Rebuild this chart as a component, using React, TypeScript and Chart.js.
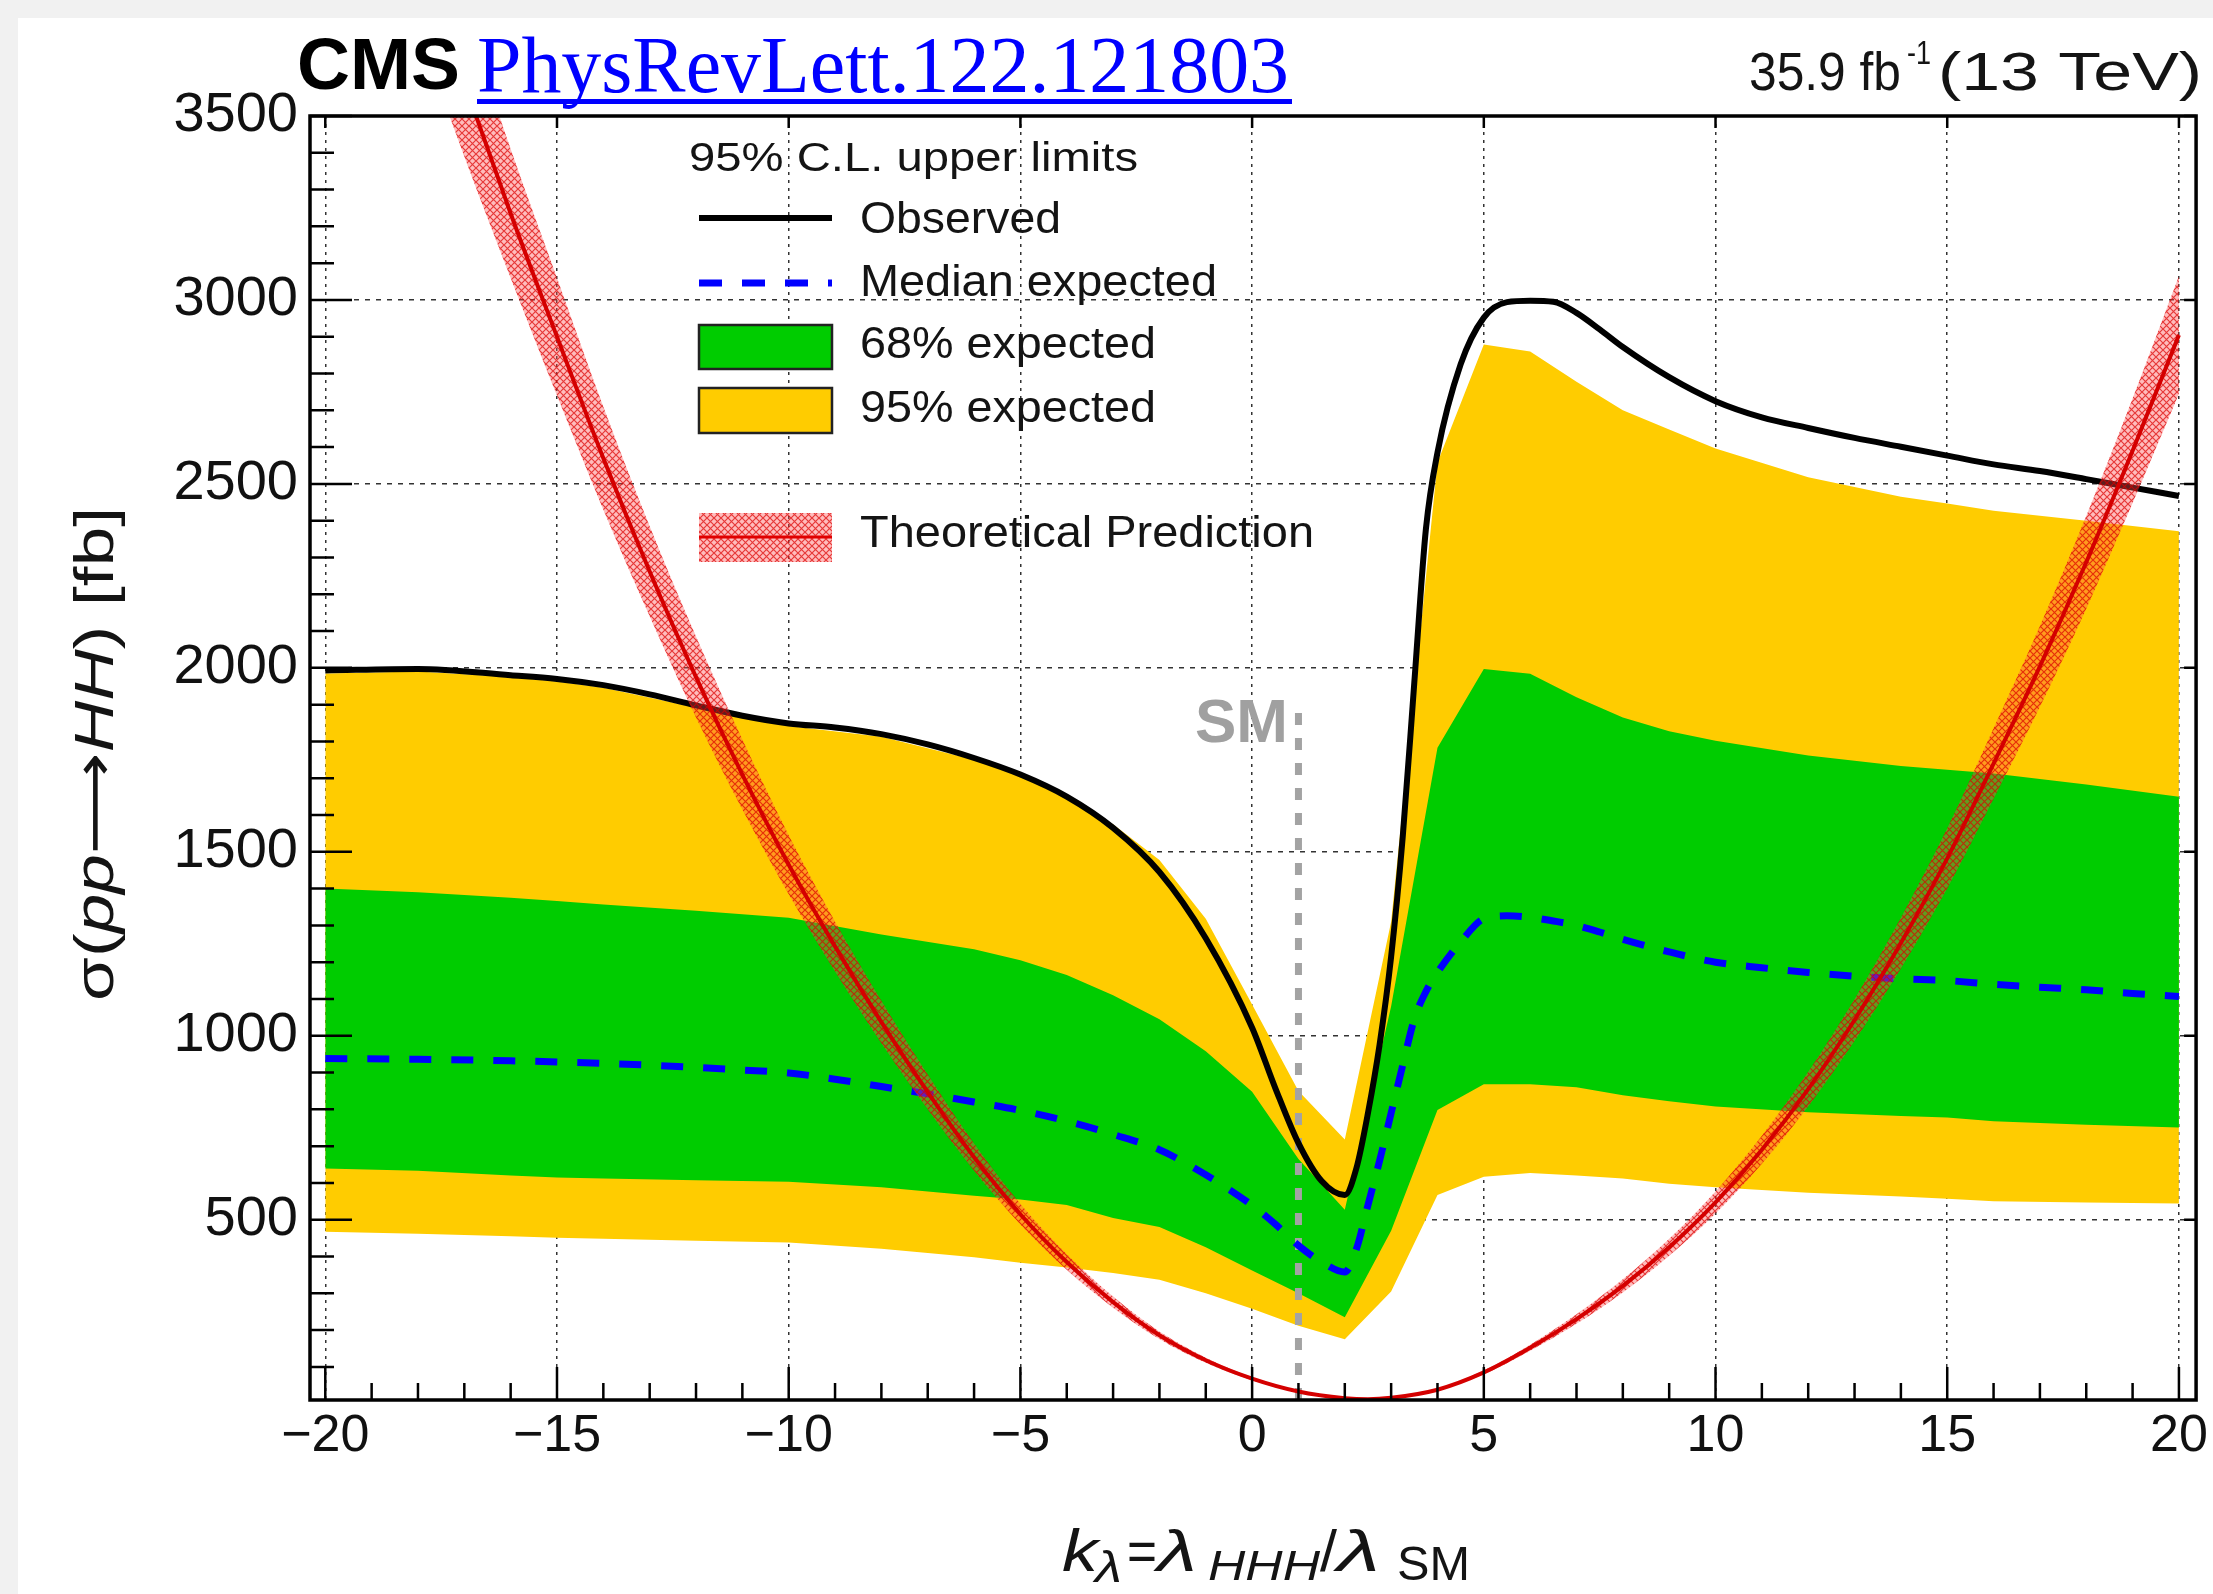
import React, { useEffect, useRef } from 'react';
import { Chart, registerables } from 'chart.js';

Chart.register(...registerables);

// ---------------- data ----------------
const K_LINE = [-20, -18, -16, -15, -14, -13, -12, -11, -10, -9, -8, -7, -6, -5, -4, -3, -2, -1, 0, 0.5, 1, 1.5, 2, 2.25, 2.5, 2.75, 3, 3.25, 3.5, 3.75, 4, 4.5, 5, 5.5, 6, 6.5, 7, 7.5, 8, 9, 10, 11, 12, 13, 14, 15, 16, 17, 18, 19, 20];
const OBSERVED = [1993, 1997, 1980, 1970, 1953, 1928, 1898, 1870, 1849, 1838, 1820, 1792, 1755, 1710, 1650, 1565, 1445, 1265, 1022, 858, 708, 605, 567, 640, 790, 975, 1215, 1540, 1960, 2377, 2585, 2825, 2952, 2994, 2998, 2995, 2965, 2920, 2872, 2790, 2725, 2681, 2652, 2625, 2601, 2577, 2553, 2535, 2513, 2490, 2467];
const MEDIAN = [938, 936, 932, 929, 925, 920, 914, 907, 899, 882, 862, 842, 820, 797, 768, 732, 690, 622, 539, 488, 430, 385, 358, 420, 540, 660, 790, 920, 1045, 1120, 1172, 1255, 1318, 1326, 1322, 1312, 1300, 1282, 1262, 1228, 1200, 1185, 1172, 1162, 1155, 1150, 1140, 1132, 1125, 1115, 1107];

const K_BAND = [-20, -18, -16, -15, -14, -12, -10, -8, -6, -5, -4, -3, -2, -1, 0, 1, 2, 3, 4, 5, 6, 7, 8, 9, 10, 12, 14, 15, 16, 18, 20];
const BAND95_HIGH = [1985, 1990, 1975, 1963, 1946, 1892, 1842, 1813, 1750, 1706, 1650, 1575, 1478, 1318, 1085, 850, 718, 1310, 2558, 2879, 2860, 2778, 2700, 2648, 2596, 2518, 2465, 2447, 2427, 2400, 2371];
const BAND95_LOW = [467, 462, 455, 451, 448, 443, 438, 421, 398, 383, 370, 355, 337, 300, 258, 212, 175, 305, 567, 617, 627, 620, 612, 598, 588, 573, 563, 557, 550, 547, 544];
const BAND68_HIGH = [1400, 1390, 1375, 1366, 1357, 1340, 1321, 1275, 1235, 1205, 1165, 1110, 1045, 958, 848, 665, 527, 1080, 1783, 1997, 1984, 1920, 1865, 1828, 1802, 1762, 1733, 1723, 1713, 1683, 1650];
const BAND68_LOW = [639, 633, 620, 615, 612, 607, 603, 588, 565, 555, 540, 505, 480, 425, 362, 300, 235, 470, 798, 868, 868, 860, 838, 822, 808, 792, 782, 778, 768, 758, 751];

const K_THEORY = [-20, -19, -18, -17, -16, -15, -14, -13, -12, -11, -10, -9, -8, -7, -6, -5, -4, -3, -2, -1, 0, 1, 2, 2.5, 3, 4, 5, 6, 7, 8, 9, 10, 11, 12, 13, 14, 15, 16, 17, 18, 19, 20];
const THEORY = [4760, 4350, 3960, 3590, 3235, 2900, 2570, 2262, 1975, 1710, 1465, 1243, 1037, 847, 670, 515, 385, 276, 186, 118, 68, 33, 15, 12, 16, 38, 85, 152, 230, 320, 425, 547, 690, 855, 1043, 1252, 1482, 1740, 2004, 2287, 2590, 2905];
const THEORY_HIGH = [5020, 4590, 4180, 3790, 3410, 3060, 2710, 2385, 2085, 1805, 1545, 1310, 1095, 895, 707, 543, 406, 291, 196, 125, 72, 35, 16, 13, 17, 40, 90, 160, 243, 338, 448, 577, 728, 902, 1100, 1321, 1564, 1836, 2114, 2413, 2732, 3065];
const THEORY_LOW = [4500, 4110, 3740, 3390, 3060, 2740, 2430, 2140, 1865, 1615, 1385, 1175, 980, 800, 633, 487, 364, 261, 176, 111, 64, 31, 14, 11, 15, 36, 80, 144, 217, 302, 402, 517, 652, 808, 986, 1183, 1400, 1644, 1894, 2161, 2448, 2745];

const SM_K = [1, 1];
const SM_Y = [10, 1893];

const X_TICKS = [-20, -15, -10, -5, 0, 5, 10, 15, 20];
const Y_TICKS = [500, 1000, 1500, 2000, 2500, 3000, 3500];

// ---------------- helpers ----------------
const SANS = "'Liberation Sans', Arial, Helvetica, 'DejaVu Sans', sans-serif";
const SERIF = "'Liberation Serif', 'Times New Roman', serif";

function drawText(
  ctx: CanvasRenderingContext2D,
  s: string,
  x: number,
  y: number,
  font: string,
  color: string,
  width?: number,
  align: 'left' | 'right' = 'left'
) {
  ctx.save();
  ctx.font = font;
  ctx.fillStyle = color;
  ctx.textBaseline = 'alphabetic';
  ctx.textAlign = 'left';
  const w = ctx.measureText(s).width;
  const sx = width ? width / w : 1;
  const x0 = align === 'right' ? x - w * sx : x;
  ctx.translate(x0, y);
  ctx.scale(sx, 1);
  ctx.fillText(s, 0, 0);
  ctx.restore();
}

const pts = (xs: number[], ys: number[]) => xs.map((x, i) => ({ x, y: ys[i] }));

export default function App() {
  const ref = useRef<HTMLCanvasElement>(null);

  useEffect(() => {
    const canvas = ref.current!;
    const pc = document.createElement('canvas');
    pc.width = 7;
    pc.height = 7;
    const p = pc.getContext('2d')!;
    p.fillStyle = 'rgba(255,80,80,0.38)';
    p.fillRect(0, 0, 7, 7);
    p.strokeStyle = 'rgba(220,0,0,0.7)';
    p.lineWidth = 1.2;
    p.beginPath();
    p.moveTo(0, 0);
    p.lineTo(7, 7);
    p.moveTo(7, 0);
    p.lineTo(0, 7);
    p.stroke();
    const pattern = canvas.getContext('2d')!.createPattern(pc, 'repeat')!;

    const decor = {
      id: 'cmsDecor',
      beforeDraw(chart: any) {
        const ctx = chart.ctx as CanvasRenderingContext2D;
        ctx.save();
        ctx.fillStyle = '#ffffff';
        ctx.fillRect(0, 0, chart.width, chart.height);
        ctx.fillStyle = '#f1f1f1';
        ctx.fillRect(0, 0, chart.width, 18);
        ctx.fillRect(0, 0, 18, chart.height);
        ctx.restore();
      },
      afterDatasetsDraw(chart: any) {
        const ctx = chart.ctx as CanvasRenderingContext2D;
        const { left, right, top, bottom } = chart.chartArea;
        const xs = chart.scales.x;
        const ys = chart.scales.y;
        ctx.save();
        ctx.strokeStyle = '#000';
        ctx.lineWidth = 2.5;
        ctx.beginPath();
        for (let k = -20; k <= 20; k++) {
          const px = xs.getPixelForValue(k);
          const major = k % 5 === 0;
          ctx.moveTo(px, bottom);
          ctx.lineTo(px, bottom - (major ? 33 : 17));
          if (major) {
            ctx.moveTo(px, top);
            ctx.lineTo(px, top + 12);
          }
        }
        for (let v = 100; v <= 3500; v += 100) {
          const py = ys.getPixelForValue(v);
          const major = v % 500 === 0;
          ctx.moveTo(left, py);
          ctx.lineTo(left + (major ? 42 : 24), py);
          if (major) {
            ctx.moveTo(right, py);
            ctx.lineTo(right - 12, py);
          }
        }
        ctx.stroke();
        ctx.lineWidth = 3.5;
        ctx.strokeRect(left, top, right - left, bottom - top);
        ctx.restore();
      },
      afterDraw(chart: any) {
        const ctx = chart.ctx as CanvasRenderingContext2D;
        const ink = '#141414';
        // header
        drawText(ctx, 'CMS', 297, 89, `bold 72px ${SANS}`, '#000', 163);
        drawText(ctx, 'PhysRevLett.122.121803', 477, 92, `80px ${SERIF}`, '#0000ff', 812);
        ctx.fillStyle = '#0000ff';
        ctx.fillRect(477, 99, 815, 5);
        drawText(ctx, '35.9 fb', 1749, 90, `53px ${SANS}`, ink, 152);
        drawText(ctx, '-1', 1907, 64, `34px ${SANS}`, ink, 24);
        drawText(ctx, '(13 TeV)', 1938, 90, `53px ${SANS}`, ink, 264);

        // legend
        drawText(ctx, '95% C.L. upper limits', 689, 171, `40px ${SANS}`, ink, 449);
        ctx.save();
        ctx.strokeStyle = '#000';
        ctx.lineWidth = 6;
        ctx.beginPath();
        ctx.moveTo(699, 218);
        ctx.lineTo(832, 218);
        ctx.stroke();
        ctx.strokeStyle = '#0000ff';
        ctx.lineWidth = 7;
        ctx.setLineDash([23, 20]);
        ctx.beginPath();
        ctx.moveTo(699, 283);
        ctx.lineTo(832, 283);
        ctx.stroke();
        ctx.setLineDash([]);
        ctx.fillStyle = '#00cc00';
        ctx.fillRect(699, 325, 133, 44);
        ctx.fillStyle = '#ffcc00';
        ctx.fillRect(699, 388, 133, 45);
        ctx.strokeStyle = '#222';
        ctx.lineWidth = 2.5;
        ctx.strokeRect(699, 325, 133, 44);
        ctx.strokeRect(699, 388, 133, 45);
        ctx.fillStyle = pattern;
        ctx.fillRect(699, 513, 133, 49);
        ctx.strokeStyle = '#e00000';
        ctx.lineWidth = 3;
        ctx.beginPath();
        ctx.moveTo(699, 537);
        ctx.lineTo(832, 537);
        ctx.stroke();
        ctx.restore();
        drawText(ctx, 'Observed', 860, 233, `45px ${SANS}`, ink, 201);
        drawText(ctx, 'Median expected', 860, 296, `45px ${SANS}`, ink, 357);
        drawText(ctx, '68% expected', 860, 358, `45px ${SANS}`, ink, 296);
        drawText(ctx, '95% expected', 860, 422, `45px ${SANS}`, ink, 296);
        drawText(ctx, 'Theoretical Prediction', 860, 547, `45px ${SANS}`, ink, 454);

        // SM label
        drawText(ctx, 'SM', 1288, 742, `bold 62px ${SANS}`, '#a0a0a0', 93, 'right');

        // x axis title
        drawText(ctx, 'k', 1062, 1571, `italic 60px ${SANS}`, ink, 36);
        drawText(ctx, 'λ', 1095, 1582, `italic 44px ${SANS}`, ink, 27);
        drawText(ctx, '=', 1127, 1571, `58px ${SANS}`, ink, 30);
        drawText(ctx, 'λ', 1157, 1571, `italic 58px ${SANS}`, ink, 40);
        drawText(ctx, 'HHH', 1208, 1580, `italic 42px ${SANS}`, ink, 112);
        drawText(ctx, '/', 1320, 1571, `58px ${SANS}`, ink, 17);
        drawText(ctx, 'λ', 1337, 1571, `italic 58px ${SANS}`, ink, 43);
        drawText(ctx, 'SM', 1397, 1580, `48px ${SANS}`, ink, 73);

        // y axis title (rotated)
        const pieces: [string, string][] = [
          ['σ', `56px ${SANS}`],
          ['(', `56px ${SANS}`],
          ['pp', `italic 56px ${SANS}`],
          ['\u27F6', `56px 'DejaVu Sans', ${SANS}`],
          ['HH', `italic 56px ${SANS}`],
          [')', `56px ${SANS}`],
          [' [fb]', `56px ${SANS}`],
        ];
        ctx.save();
        let total = 0;
        const widths = pieces.map(([s, f]) => {
          ctx.font = f;
          const w = ctx.measureText(s).width;
          total += w;
          return w;
        });
        ctx.translate(113, 1001);
        ctx.rotate(-Math.PI / 2);
        ctx.scale(494 / total, 1);
        ctx.fillStyle = ink;
        ctx.textBaseline = 'alphabetic';
        let cx = 0;
        pieces.forEach(([s, f], i) => {
          ctx.font = f;
          ctx.fillText(s, cx, 0);
          cx += widths[i];
        });
        ctx.restore();
      },
    };

    const hidden = { borderColor: 'transparent', borderWidth: 0, pointRadius: 0 };

    const chart = new Chart(canvas, {
      type: 'line',
      data: {
        datasets: [
          { label: 'Theory', data: pts(K_THEORY, THEORY), borderColor: '#d40000', borderWidth: 4, pointRadius: 0, fill: false, cubicInterpolationMode: 'monotone', clip: 0 } as any,
          { label: 'Theory high', data: pts(K_THEORY, THEORY_HIGH), ...hidden, fill: 2, backgroundColor: pattern, cubicInterpolationMode: 'monotone' } as any,
          { label: 'Theory low', data: pts(K_THEORY, THEORY_LOW), ...hidden, fill: false, cubicInterpolationMode: 'monotone' } as any,
          { label: 'Observed', data: pts(K_LINE, OBSERVED), borderColor: '#000', borderWidth: 6, pointRadius: 0, fill: false, cubicInterpolationMode: 'monotone' } as any,
          { label: 'Median expected', data: pts(K_LINE, MEDIAN), borderColor: '#0000ff', borderWidth: 7, borderDash: [22, 20], pointRadius: 0, fill: false, cubicInterpolationMode: 'monotone' } as any,
          { label: 'SM', data: pts(SM_K, SM_Y), borderColor: '#a3a3a3', borderWidth: 7, borderDash: [12, 13], pointRadius: 0, fill: false } as any,
          { label: '68% high', data: pts(K_BAND, BAND68_HIGH), ...hidden, fill: 7, backgroundColor: '#00cc00' } as any,
          { label: '68% low', data: pts(K_BAND, BAND68_LOW), ...hidden, fill: false } as any,
          { label: '95% high', data: pts(K_BAND, BAND95_HIGH), ...hidden, fill: 9, backgroundColor: '#ffcc00' } as any,
          { label: '95% low', data: pts(K_BAND, BAND95_LOW), ...hidden, fill: false } as any,
        ],
      },
      options: {
        animation: false,
        responsive: true,
        maintainAspectRatio: false,
        layout: { padding: { top: 116, right: 16, left: 0, bottom: 0 } },
        plugins: { legend: { display: false }, tooltip: { enabled: false }, title: { display: false } },
        elements: { line: { tension: 0 } },
        scales: {
          x: {
            type: 'linear',
            min: -20.33,
            max: 20.37,
            afterBuildTicks: (s: any) => {
              s.ticks = X_TICKS.map((v) => ({ value: v }));
            },
            afterFit: (s: any) => {
              s.height = 194;
            },
            grid: { color: '#333', lineWidth: 1.5, drawTicks: false },
            border: { display: false, dash: [3, 5] },
            ticks: {
              autoSkip: false,
              maxRotation: 0,
              padding: 5,
              color: '#111',
              font: { family: SANS, size: 52 },
              callback: (v: any) => (Number(v) < 0 ? '\u2212' + Math.abs(Number(v)) : String(v)),
            },
          },
          y: {
            type: 'linear',
            min: 10,
            max: 3500,
            afterBuildTicks: (s: any) => {
              s.ticks = Y_TICKS.map((v) => ({ value: v }));
            },
            afterFit: (s: any) => {
              s.width = 310;
            },
            grid: { color: '#333', lineWidth: 1.5, drawTicks: false },
            border: { display: false, dash: [5, 6] },
            ticks: {
              padding: 12,
              color: '#111',
              font: { family: SANS, size: 56 },
              callback: (v: any) => String(v),
            },
          },
        },
      } as any,
      plugins: [decor as any],
    });

    return () => chart.destroy();
  }, []);

  return (
    <div style={{ position: 'absolute', left: 0, top: 0, width: 2213, height: 1594 }}>
      <canvas ref={ref} />
    </div>
  );
}
